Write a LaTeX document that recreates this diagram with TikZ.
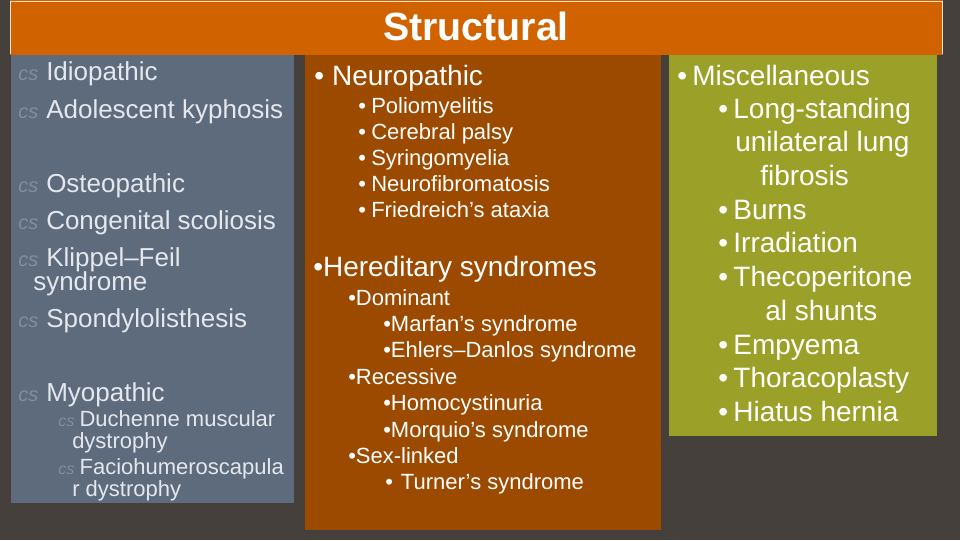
\documentclass[tikz,border=0pt]{standalone}
\usepackage{fontspec}
\setmainfont{Liberation Sans}
\usepackage{tikz}
\definecolor{bgdark}{RGB}{70,64,60}
\definecolor{slate}{RGB}{94,107,125}
\definecolor{rust}{RGB}{155,74,0}
\definecolor{olive}{RGB}{155,161,40}
\definecolor{orangebar}{RGB}{208,98,0}
\definecolor{curlgray}{RGB}{130,142,158}
\definecolor{txt}{RGB}{228,232,238}
\newcommand{\curl}{\makebox[21pt][l]{\color{curlgray}\fontsize{15}{15}\selectfont\itshape cs}}
\newcommand{\curls}{\makebox[16pt][l]{\color{curlgray}\fontsize{12}{12}\selectfont\itshape cs}}
\tikzset{
  lt/.style={anchor=base west,inner sep=0pt,text=txt,font=\fontsize{19.5}{20}\selectfont},
  lts/.style={lt,font=\fontsize{16.5}{18}\selectfont},
  mt/.style={anchor=base west,inner sep=0pt,text=white,font=\fontsize{21}{22}\selectfont},
  mts/.style={mt,font=\fontsize{16.5}{18}\selectfont},
  rt/.style={mt,font=\fontsize{21}{22}\selectfont}
}
\begin{document}
\begin{tikzpicture}[x=0.75pt,y=0.75pt,yscale=-1,xscale=1]
\fill[bgdark] (0,0) rectangle (960,540);
\useasboundingbox (0,0) rectangle (960,540);

%panels
\fill[slate] (11,54) rectangle (294,503);
\fill[rust] (305,54) rectangle (661,530);
\fill[olive] (669,54) rectangle (937,436);
\draw[orangebar,fill=orangebar] (10,0) rectangle (942,54);
\draw[white!80!orangebar,line width=0.6pt] (10,1) -- (942,1) -- (942,54);
\draw[white!80!orangebar,line width=0.6pt] (10,1) -- (10,54);
\node[anchor=base,inner sep=0pt,text=white,font=\bfseries\fontsize{29.5}{30}\selectfont] (title) at (476,40) {Structural};

%left column
\node[lt] (idio) at (18,80) {\curl Idiopathic};
\node[lt] (adol) at (18,118) {\curl Adolescent kyphosis};
\node[lt] (osteo) at (18,192) {\curl Osteopathic};
\node[lt] (cong) at (18,229) {\curl Congenital scoliosis};
\node[lt] (klip) at (18,266) {\curl Klippel--Feil};
\node[lt] (klip2) at (33,290) {syndrome};
\node[lt] (spon) at (18,327) {\curl Spondylolisthesis};
\node[lt] (myo) at (18,401) {\curl Myopathic};
\node[lts] (duch) at (58,426) {\curls Duchenne muscular};
\node[lts] (duch2) at (72,448) {dystrophy};
\node[lts] (facio) at (58,474) {\curls Faciohumeroscapula};
\node[lts] (facio2) at (72,496) {r dystrophy};

%middle column
\node[mt] (neuro) at (314,85) {•\hspace{6pt}Neuropathic};
\foreach \name [count=\i] in {Poliomyelitis,Cerebral palsy,Syringomyelia,Neurofibromatosis,Friedreich’s ataxia}
  \node[mts] (n\i) at (358,{113+26.2*(\i-1)}) {•\hspace{4pt}\name};
\node[mt] (hered) at (313,276) {•Hereditary syndromes};
\node[mts] (dom) at (348,305) {•Dominant};
\node[mts] (marf) at (383,331) {•Marfan’s syndrome};
\node[mts] (ehl) at (383,357) {•Ehlers--Danlos syndrome};
\node[mts] (rec) at (348,384) {•Recessive};
\node[mts] (homo) at (383,410) {•Homocystinuria};
\node[mts] (morq) at (383,437) {•Morquio’s syndrome};
\node[mts] (sex) at (348,463) {•Sex-linked};
\node[mts] (turn) at (385,489) {•\hspace{6pt}Turner’s syndrome};

%right column
\node[rt] (misc) at (677,85) {•\hspace{4pt}Miscellaneous};
\node[rt] (long) at (718,118) {•\hspace{4pt}Long-standing};
\node[rt] (long2) at (735,151) {unilateral lung};
\node[rt] (long3) at (760,185) {fibrosis};
\node[rt] (burn) at (718,219) {•\hspace{4pt}Burns};
\node[rt] (irr) at (718,252) {•\hspace{4pt}Irradiation};
\node[rt] (theco) at (718,286) {•\hspace{4pt}Thecoperitone};
\node[rt] (theco2) at (765,320) {al shunts};
\node[rt] (emp) at (718,354) {•\hspace{4pt}Empyema};
\node[rt] (thor) at (718,387) {•\hspace{4pt}Thoracoplasty};
\node[rt] (hiat) at (718,421) {•\hspace{4pt}Hiatus hernia};
\end{tikzpicture}
\end{document}
